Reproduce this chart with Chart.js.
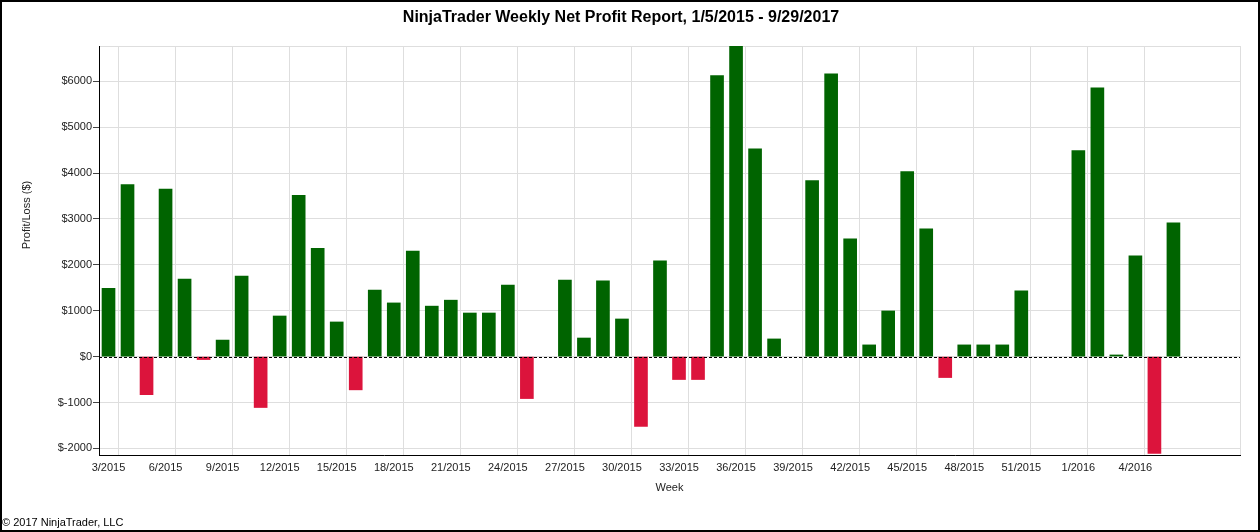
<!DOCTYPE html>
<html>
<head>
<meta charset="utf-8">
<script src="https://cdn.jsdelivr.net/npm/chart.js@4/dist/chart.umd.min.js"></script>
<style>
  body { margin: 0; background: #fff; }
</style>
</head>
<body>
<canvas id="myChart" width="1260" height="532"></canvas>
<script>
// weeks shown on the x axis (labels every 3rd week)
var weeks = [
  "3/2015", "4/2015", "5/2015", "6/2015", "7/2015", "8/2015", "9/2015", "10/2015", "11/2015", "12/2015",
  "13/2015", "14/2015", "15/2015", "16/2015", "17/2015", "18/2015", "19/2015", "20/2015", "21/2015", "22/2015",
  "23/2015", "24/2015", "25/2015", "26/2015", "27/2015", "28/2015", "29/2015", "30/2015", "31/2015", "32/2015",
  "33/2015", "34/2015", "35/2015", "36/2015", "37/2015", "38/2015", "39/2015", "40/2015", "41/2015", "42/2015",
  "43/2015", "44/2015", "45/2015", "46/2015", "47/2015", "48/2015", "49/2015", "50/2015", "51/2015", "52/2015",
  "53/2015", "1/2016", "2/2016", "3/2016", "4/2016", "5/2016", "6/2016", "7/2016", "8/2016", "9/2016"
];

// weekly net profit / loss in $
var netProfit = [
  1490, 3750, -830, 3650, 1690, -65, 360, 1755, -1110, 885,
  3515, 2360, 755, -725, 1450, 1170, 2300, 1100, 1230, 950,
  950, 1560, -915, null, 1670, 405, 1650, 820, -1520, 2085,
  -500, -500, 6125, 6764, 4530, 385, null, 3835, 6165, 2565,
  255, 995, 4030, 2785, -457, 255, 255, 255, 1435, null,
  null, 4490, 5860, 36, 2195, -2110, 2915, null, null, null
];

var yTicks = [-2000, -1000, 0, 1000, 2000, 3000, 4000, 5000, 6000];
var yMin = -2145;
var yMax = 6770;
var lastLabelIndex = 54; // "4/2016"

var GREEN = "#006400";
var RED = "#dc143c";
var GRID = "#dedede";
var FONT = "'Liberation Sans', Arial, sans-serif";

// dashed line at $0
var zeroLine = {
  id: "zeroLine",
  afterDatasetsDraw: function (chart) {
    var ctx = chart.ctx;
    var area = chart.chartArea;
    var y = Math.round(chart.scales.y.getPixelForValue(0)) + 0.5;
    ctx.save();
    ctx.strokeStyle = "#000";
    ctx.lineWidth = 1;
    ctx.setLineDash([3, 2]);
    ctx.beginPath();
    ctx.moveTo(area.left, y);
    ctx.lineTo(area.right, y);
    ctx.stroke();
    ctx.restore();
  },
};

// y axis title (sits above the middle of the axis) and black frame
var decorations = {
  id: "decorations",
  afterDraw: function (chart) {
    var ctx = chart.ctx;
    ctx.save();
    ctx.translate(chart.scales.y.left + 25, 215);
    ctx.rotate(-Math.PI / 2);
    ctx.fillStyle = "#222";
    ctx.font = "11px " + FONT;
    ctx.textAlign = "center";
    ctx.textBaseline = "middle";
    ctx.fillText("Profit/Loss ($)", 0, 0);
    ctx.restore();

    ctx.save();
    ctx.strokeStyle = "#000";
    ctx.lineWidth = 2;
    ctx.strokeRect(1, 1, chart.width - 2, chart.height - 2);
    ctx.restore();
  },
};

var ctx = document.getElementById("myChart").getContext("2d");

var myChart = new Chart(ctx, {
  type: "bar",
  data: {
    labels: weeks,
    datasets: [
      {
        label: "Net Profit",
        data: netProfit,
        backgroundColor: function (c) {
          return c.raw < 0 ? RED : GREEN;
        },
        borderWidth: 0,
        barThickness: 13,
      },
    ],
  },
  plugins: [zeroLine, decorations],
  options: {
    responsive: false,
    animation: false,
    devicePixelRatio: 1,
    layout: {
      padding: { left: 2, right: 20, top: 0, bottom: 0 },
    },
    plugins: {
      legend: { display: false },
      tooltip: { enabled: false },
      title: {
        display: true,
        text: "NinjaTrader Weekly Net Profit Report, 1/5/2015 - 9/29/2017",
        color: "#000",
        font: { family: FONT, size: 16, weight: "bold" },
        padding: { top: 8, bottom: 18.8 },
      },
      subtitle: {
        display: true,
        position: "bottom",
        align: "start",
        text: "\u00a9 2017 NinjaTrader, LLC",
        color: "#000",
        font: { family: FONT, size: 11 },
        padding: { top: 0, bottom: 2 },
      },
    },
    scales: {
      x: {
        offset: true,
        grid: {
          offset: true,
          drawTicks: false,
          color: function (c) {
            if (c.type !== "tick") return GRID;
            return c.index % 3 === 1 && c.index <= lastLabelIndex + 1 ? GRID : "rgba(0,0,0,0)";
          },
        },
        border: { color: "#000", width: 1 },
        ticks: {
          autoSkip: false,
          maxRotation: 0,
          padding: 6,
          color: "#222",
          font: { family: FONT, size: 11 },
          callback: function (value, index) {
            return index % 3 === 0 && index <= lastLabelIndex ? weeks[index] : "";
          },
        },
        title: {
          display: true,
          text: "Week",
          color: "#222",
          font: { family: FONT, size: 11 },
          padding: { top: 0, bottom: 22.2 },
        },
        afterFit: function (scale) {
          scale.height = 61.8;
        },
      },
      y: {
        min: yMin,
        max: yMax,
        afterBuildTicks: function (scale) {
          scale.ticks = [yMin].concat(yTicks, [yMax]).map(function (v) {
            return { value: v };
          });
        },
        grid: {
          color: GRID,
          tickLength: 6,
          tickColor: function (c) {
            return c.tick && yTicks.indexOf(c.tick.value) >= 0 ? "#444" : "rgba(0,0,0,0)";
          },
        },
        border: { color: "#000", width: 1 },
        ticks: {
          padding: 1,
          color: "#222",
          font: { family: FONT, size: 11 },
          callback: function (value) {
            return yTicks.indexOf(value) >= 0 ? "$" + value : "";
          },
        },
        afterFit: function (scale) {
          scale.width = 97;
        },
      },
    },
  },
});
</script>
</body>
</html>
